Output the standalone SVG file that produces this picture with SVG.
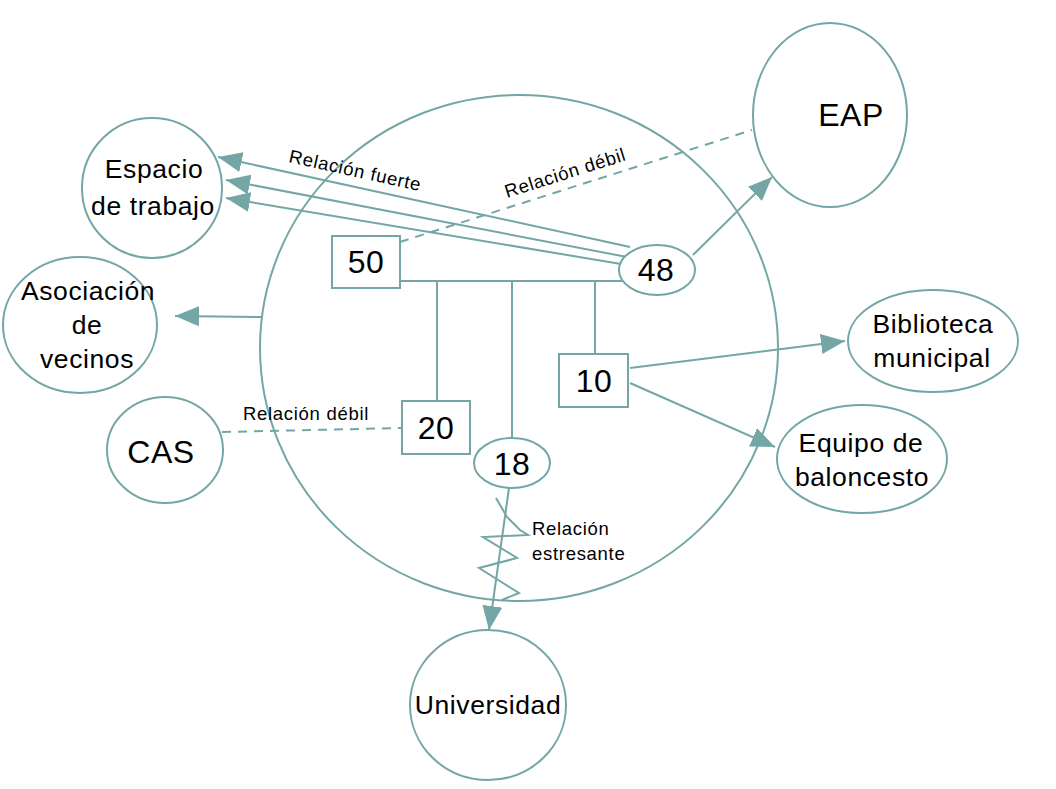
<svg xmlns="http://www.w3.org/2000/svg" width="1056" height="789" viewBox="0 0 1056 789">
<defs>
<style>
.s{fill:none;stroke:#74a6a6;stroke-width:2}
.n{fill:#fff;stroke:#74a6a6;stroke-width:2}
.t{font-family:"Liberation Sans",Arial,sans-serif;font-size:26.5px;letter-spacing:0.6px;fill:#000;text-anchor:middle}
.b{font-size:32px;letter-spacing:0.5px}
.l{font-family:"Liberation Sans",Arial,sans-serif;font-size:18.5px;letter-spacing:0.7px;fill:#000}
.d{stroke-dasharray:9 7}
</style>
<marker id="ahL" viewBox="0 0 10 10" refX="10" refY="5" markerWidth="24" markerHeight="20" markerUnits="userSpaceOnUse" orient="auto" preserveAspectRatio="none">
<path d="M0,0 L10,5 L0,10 z" fill="#74a6a6"/>
</marker>
</defs>
<rect width="1056" height="789" fill="#fff"/>
<g id="familia"><ellipse class="s" cx="519" cy="348" rx="259" ry="253"/></g>
<g id="connectors">
<line class="s" x1="630" y1="247" x2="218" y2="157" marker-end="url(#ahL)"/>
<line class="s" x1="627" y1="257" x2="226" y2="180" marker-end="url(#ahL)"/>
<line class="s" x1="621" y1="264" x2="226" y2="198" marker-end="url(#ahL)"/>
<line class="s d" x1="400" y1="242" x2="752" y2="130"/>
<line class="s" x1="693" y1="255" x2="772" y2="177" marker-end="url(#ahL)"/>
<line class="s" x1="262" y1="317" x2="175" y2="316" marker-end="url(#ahL)"/>
<line class="s d" x1="222" y1="432" x2="402" y2="428"/>
<line class="s" x1="630" y1="368" x2="845" y2="341" marker-end="url(#ahL)"/>
<line class="s" x1="630" y1="383" x2="775" y2="447" marker-end="url(#ahL)"/>
<line class="s" x1="400" y1="281" x2="622" y2="281"/>
<line class="s" x1="437" y1="281" x2="437" y2="401"/>
<line class="s" x1="512" y1="281" x2="512" y2="438"/>
<line class="s" x1="595" y1="281" x2="595" y2="354"/>
<line class="s" x1="509" y1="488" x2="489" y2="630" marker-end="url(#ahL)"/>
<polyline class="s" points="496,498 507,517 520,530 528,535 483,537 517,558 479,568 519,593 502,600"/>
</g>
<g id="espacio"><ellipse class="n" cx="152" cy="188" rx="70" ry="70"/><text class="t" x="154" y="178">Espacio</text><text class="t" x="153" y="215">de trabajo</text></g>
<g id="eap"><ellipse class="n" cx="830" cy="115" rx="77" ry="92"/><text class="t b" x="851" y="126">EAP</text></g>
<g id="asociacion"><ellipse class="n" cx="80" cy="325" rx="77" ry="68"/><text class="t" x="88" y="300">Asociación</text><text class="t" x="87" y="334">de</text><text class="t" x="87" y="368">vecinos</text></g>
<g id="cas"><ellipse class="n" cx="165" cy="450" rx="58" ry="53"/><text class="t b" x="161" y="463">CAS</text></g>
<g id="biblioteca"><ellipse class="n" cx="933" cy="341" rx="85" ry="51"/><text class="t" x="933" y="333">Biblioteca</text><text class="t" x="932" y="367">municipal</text></g>
<g id="equipo"><ellipse class="n" cx="862" cy="459" rx="85" ry="54"/><text class="t" x="861" y="452">Equipo de</text><text class="t" x="862" y="486">baloncesto</text></g>
<g id="universidad"><ellipse class="n" cx="488" cy="705" rx="78" ry="75"/><text class="t" x="488" y="714">Universidad</text></g>
<g id="n50"><rect class="n" x="332" y="236" width="68" height="52"/><text class="t b" x="366" y="273">50</text></g>
<g id="n48"><ellipse class="n" cx="657" cy="270" rx="38" ry="25"/><text class="t b" x="656" y="281">48</text></g>
<g id="n20"><rect class="n" x="402" y="401" width="68" height="53"/><text class="t b" x="436" y="439">20</text></g>
<g id="n10"><rect class="n" x="559" y="354" width="69" height="53"/><text class="t b" x="594" y="392">10</text></g>
<g id="n18"><ellipse class="n" cx="512" cy="463" rx="38" ry="25"/><text class="t b" x="512" y="475">18</text></g>
<g id="labels">
<text class="l" transform="translate(288,162) rotate(12.5)">Relación fuerte</text>
<text class="l" transform="translate(507,198) rotate(-17.6)">Relación débil</text>
<text class="l" x="243" y="420">Relación débil</text>
<text class="l" x="532" y="535">Relación</text>
<text class="l" x="532" y="560">estresante</text>
</g>
</svg>
